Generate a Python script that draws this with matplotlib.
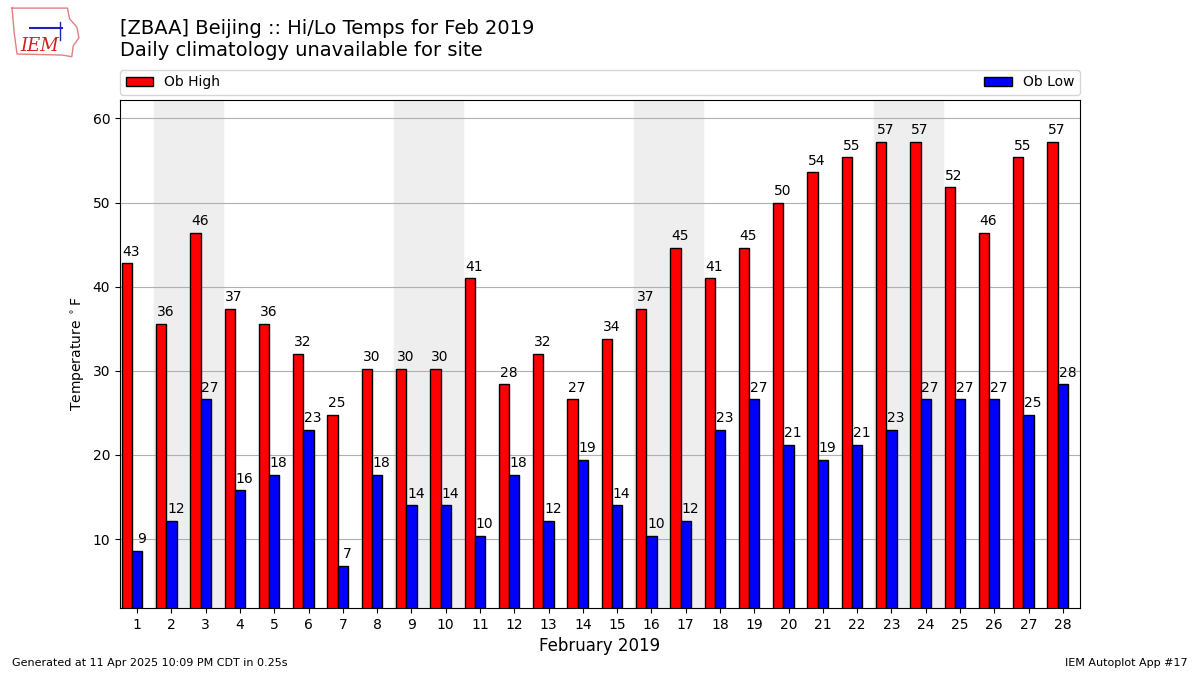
import numpy as np
import matplotlib
matplotlib.use("Agg")
import matplotlib.pyplot as plt

days = list(range(1, 29))
highs = [42.8, 35.6, 46.4, 37.4, 35.6, 32.0, 24.8, 30.2, 30.2, 30.2,
         41.0, 28.4, 32.0, 26.6, 33.8, 37.4, 44.6, 41.0, 44.6, 50.0,
         53.6, 55.4, 57.2, 57.2, 51.8, 46.4, 55.4, 57.2]
lows = [8.6, 12.2, 26.6, 15.8, 17.6, 23.0, 6.8, 17.6, 14.0, 14.0,
        10.4, 17.6, 12.2, 19.4, 14.0, 10.4, 12.2, 23.0, 26.6, 21.2,
        19.4, 21.2, 23.0, 26.6, 26.6, 26.6, 24.8, 28.4]
weekends = [2, 3, 9, 10, 16, 17, 23, 24]

fig = plt.figure(figsize=(12, 6.75), dpi=100)
ax = fig.add_axes([0.1, 0.0993, 0.8, 0.7526])

for d in weekends:
    ax.axvspan(d - 0.5, d + 0.5, color="#EEEEEE", zorder=0)

x = np.array(days)
ax.bar(x - 0.3, highs, width=0.3, color="r", edgecolor="k", label="Ob High", zorder=2)
ax.bar(x, lows, width=0.3, color="b", edgecolor="k", label="Ob Low", zorder=2)

for d, h, l in zip(days, highs, lows):
    ax.text(d - 0.3 + 0.13, h + 0.55, f"{h:.0f}", ha="center", va="bottom", fontsize=10)
    ax.text(d + 0.13, l + 0.55, f"{l:.0f}", ha="center", va="bottom", fontsize=10)

ax.set_xlim(0.5, 28.5)
ax.set_ylim(min(lows) - 5, max(highs) + 5)
ax.set_xticks(days)
ax.set_yticks([10, 20, 30, 40, 50, 60])
ax.yaxis.grid(True, color="#b0b0b0", zorder=1)
ax.set_axisbelow(True)
ax.set_xlabel("February 2019", fontsize=12)
ax.set_ylabel(r"Temperature $^\circ$F")
ax.legend(bbox_to_anchor=(0, 1.01, 1, 0.1), loc="lower left", mode="expand",
          ncol=2, borderaxespad=0)

fig.text(0.1, 0.972, "[ZBAA] Beijing :: Hi/Lo Temps for Feb 2019\nDaily climatology unavailable for site",
         fontsize=14, va="top", ha="left")
fig.text(0.01, 0.0133, "Generated at 11 Apr 2025 10:09 PM CDT in 0.25s", fontsize=8)
fig.text(0.99, 0.0133, "IEM Autoplot App #17", fontsize=8, ha="right")

# rough logo
lax = fig.add_axes([0.007, 0.912, 0.06, 0.08])
lax.set_xlim(0, 1)
lax.set_ylim(0, 1)
lax.axis("off")
outline_x = [0.05, 0.82, 0.85, 0.95, 0.98, 0.9, 0.88, 0.75, 0.12, 0.08, 0.05]
outline_y = [0.95, 0.95, 0.75, 0.6, 0.4, 0.25, 0.05, 0.08, 0.1, 0.5, 0.95]
lax.plot(outline_x, outline_y, color="#e08080", lw=1)
lax.text(0.17, 0.15, "IEM", color="#d02020", fontsize=13, family="serif", style="italic")
lax.plot([0.3, 0.75], [0.58, 0.58], color="#2020c0", lw=1.5)
lax.plot([0.72, 0.72], [0.7, 0.35], color="#2020c0", lw=1)

fig.savefig("out.png", dpi=100)
